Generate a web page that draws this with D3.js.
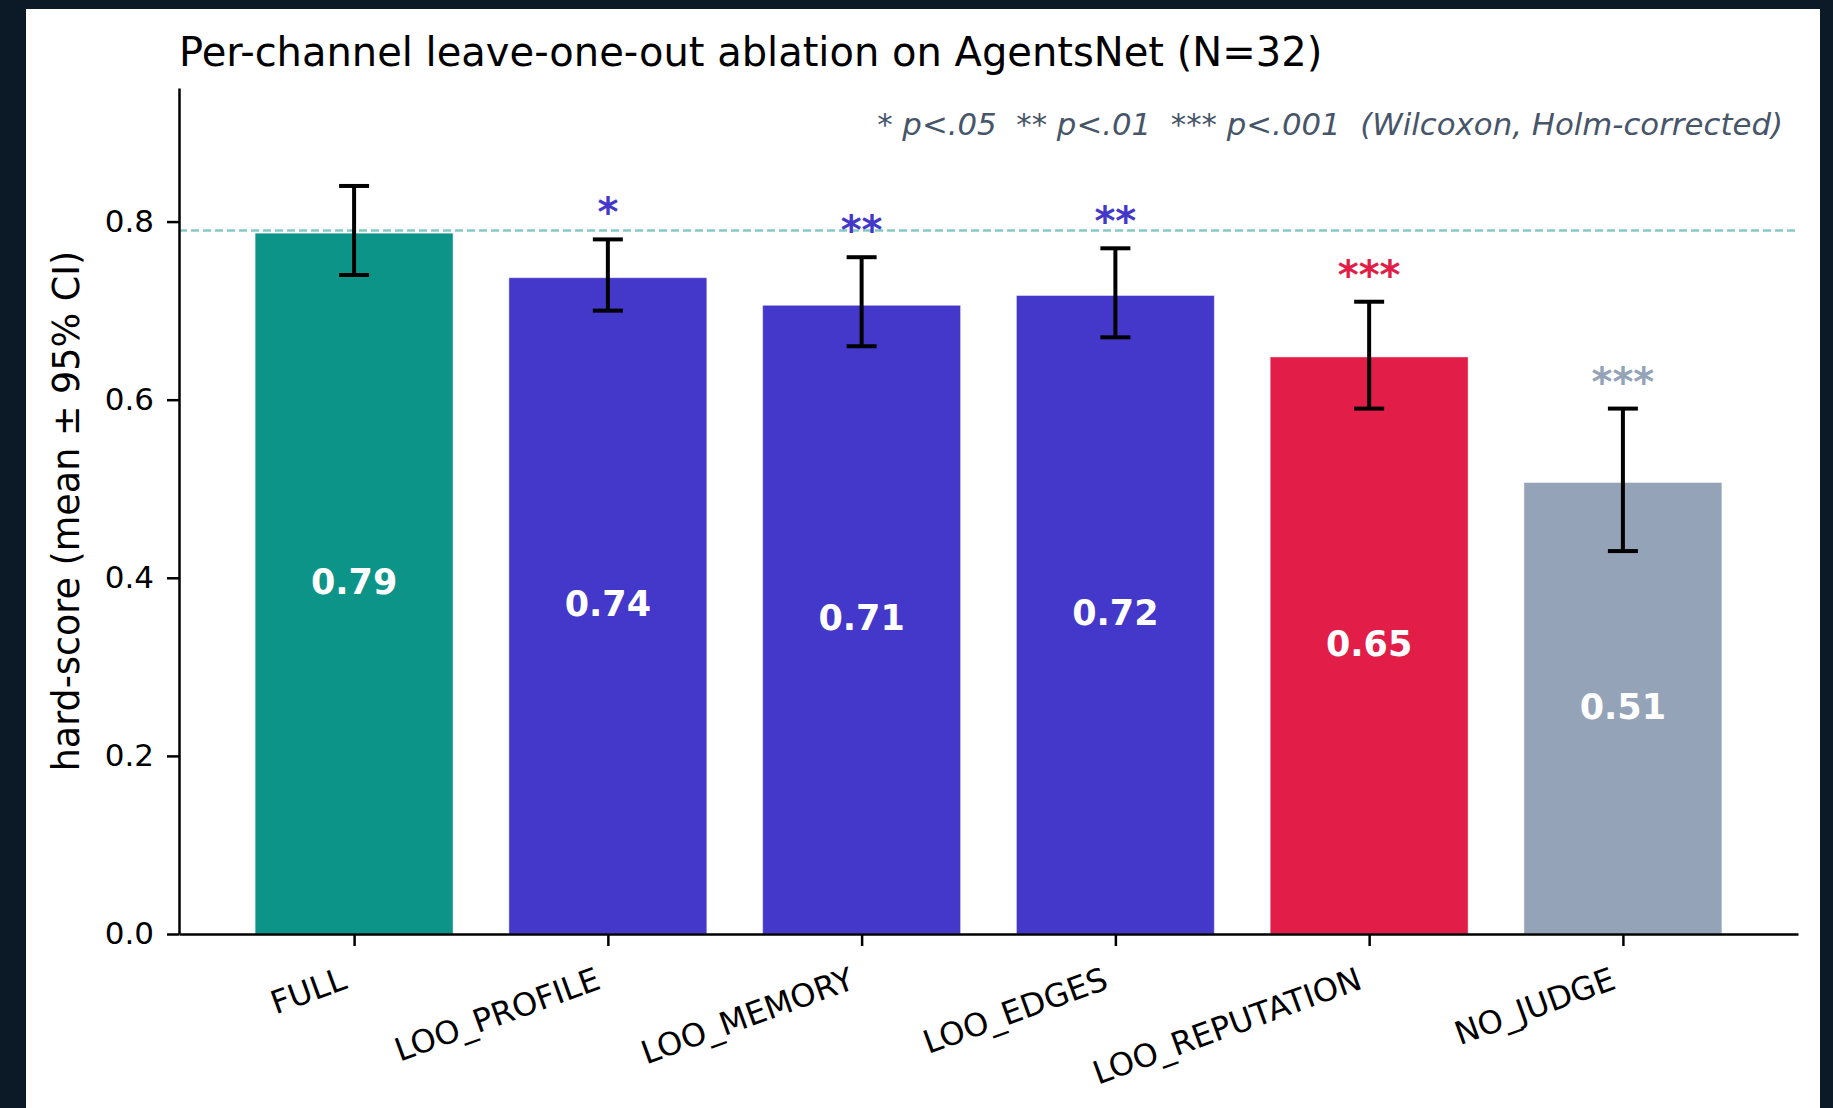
<!DOCTYPE html>
<html>
<head>
<meta charset="utf-8">
<script src="https://cdn.jsdelivr.net/npm/d3@7"></script>
<style>
  body { margin: 0; background: #0c1926; }
  svg { display: block; }
  svg text { font-family: "DejaVu Sans", sans-serif; }
</style>
</head>
<body>
<svg></svg>
<script>
// ablation data
var conditions = ["FULL", "LOO_PROFILE", "LOO_MEMORY", "LOO_EDGES", "LOO_REPUTATION", "NO_JUDGE"];
var means = [0.787, 0.737, 0.706, 0.717, 0.648, 0.507];
var ciLow = [0.74, 0.70, 0.66, 0.67, 0.59, 0.43];
var ciHigh = [0.84, 0.78, 0.76, 0.77, 0.71, 0.59];
var stars = ["", "*", "**", "**", "***", "***"];
var barColors = ["#0d9488", "#4338ca", "#4338ca", "#4338ca", "#e11d48", "#94a3b8"];
var yTicks = [0, 0.2, 0.4, 0.6, 0.8];
var fullRef = 0.79;   // dashed line for the FULL score

var width = 1833;
var height = 1108;
var plotLeft = 179, plotRight = 1798, plotTop = 88, plotBottom = 934;

var svg = d3.select("svg")
      .attr("width", width)
      .attr("height", height);

// white card on the dark page
svg.append("rect")
      .attr("x", 26).attr("y", 9)
      .attr("width", 1794).attr("height", height)
      .attr("fill", "#ffffff");

var xScale = d3.scaleLinear()
      .domain([-0.69, 5.69])
      .range([plotLeft, plotRight]);
var yScale = d3.scaleLinear()
      .domain([0, 0.95])
      .range([plotBottom, plotTop]);
var barW = 0.78;

// bars
svg.append("g")
      .selectAll("rect")
      .data(means)
      .enter()
      .append("rect")
            .attr("x", (d, i) => xScale(i - barW / 2))
            .attr("width", xScale(barW) - xScale(0))
            .attr("y", d => yScale(d))
            .attr("height", d => yScale(0) - yScale(d))
            .attr("fill", (d, i) => barColors[i])
            .attr("stroke", "#ffffff")
            .attr("stroke-opacity", 0.45)
            .attr("stroke-width", 1);

// reference line at the FULL mean
svg.append("line")
      .attr("x1", plotLeft).attr("x2", plotRight)
      .attr("y1", yScale(fullRef)).attr("y2", yScale(fullRef))
      .attr("stroke", "#0d9488")
      .attr("stroke-opacity", 0.5)
      .attr("stroke-width", 2.4)
      .attr("stroke-dasharray", "8,4");

// error bars
var err = svg.append("g").attr("stroke", "#000").attr("stroke-width", 4);
means.forEach(function(d, i) {
      var cx = xScale(i);
      err.append("line").attr("x1", cx).attr("x2", cx)
            .attr("y1", yScale(ciLow[i])).attr("y2", yScale(ciHigh[i]));
      [ciLow[i], ciHigh[i]].forEach(function(v) {
            err.append("line").attr("x1", cx - 15).attr("x2", cx + 15)
                  .attr("y1", yScale(v)).attr("y2", yScale(v));
      });
});

// value labels inside bars
svg.append("g")
      .selectAll("text")
      .data(means)
      .enter()
      .append("text")
            .attr("x", (d, i) => xScale(i))
            .attr("y", d => yScale(d / 2))
            .attr("dy", "0.3em")
            .attr("text-anchor", "middle")
            .attr("fill", "#ffffff")
            .style("font-size", "35px")
            .style("font-weight", "bold")
            .text(d => d3.format(".2f")(d));

// significance stars
svg.append("g")
      .selectAll("text")
      .data(stars)
      .enter()
      .append("text")
            .attr("x", (d, i) => xScale(i))
            .attr("y", (d, i) => yScale(ciHigh[i]) - 13)
            .attr("text-anchor", "middle")
            .attr("fill", (d, i) => barColors[i])
            .style("font-size", "40px")
            .style("font-weight", "bold")
            .text(d => d);

// axes
var yAxis = svg.append("g")
      .attr("transform", "translate(" + plotLeft + ",0)")
      .call(d3.axisLeft(yScale)
            .tickValues(yTicks)
            .tickFormat(d3.format(".1f"))
            .tickSize(12)
            .tickSizeOuter(0)
            .tickPadding(13));
yAxis.selectAll("text")
      .style("font-family", "'DejaVu Sans', sans-serif")
      .style("font-size", "31px")
      .attr("fill", "#000");

var xAxis = svg.append("g")
      .attr("transform", "translate(0," + plotBottom + ")")
      .call(d3.axisBottom(xScale)
            .tickValues(d3.range(conditions.length))
            .tickFormat(i => conditions[i])
            .tickSize(12)
            .tickSizeOuter(0));
xAxis.selectAll("text")
      .style("font-family", "'DejaVu Sans', sans-serif")
      .style("font-size", "32px")
      .attr("fill", "#000")
      .attr("text-anchor", "end")
      .attr("x", 0)
      .attr("y", 0)
      .attr("dy", 0)
      .attr("transform", "translate(-6,54) rotate(-20)");

svg.selectAll(".domain, .tick line")
      .attr("stroke", "#000")
      .attr("stroke-width", 2.5);

// titles and notes
svg.append("text")
      .attr("x", plotLeft)
      .attr("y", 66)
      .style("font-size", "40px")
      .attr("fill", "#000")
      .text("Per-channel leave-one-out ablation on AgentsNet (N=32)");

svg.append("text")
      .attr("transform", "rotate(-90)")
      .attr("x", -(plotTop + plotBottom) / 2)
      .attr("y", 79)
      .attr("text-anchor", "middle")
      .style("font-size", "36.5px")
      .attr("fill", "#000")
      .text("hard-score (mean \u00b1 95% CI)");

svg.append("text")
      .attr("x", 1783)
      .attr("y", 135)
      .attr("text-anchor", "end")
      .style("font-size", "30.8px")
      .style("font-style", "italic")
      .attr("fill", "#475569")
      .style("white-space", "pre")
      .text("* p<.05  ** p<.01  *** p<.001  (Wilcoxon, Holm-corrected)");
</script>
</body>
</html>
